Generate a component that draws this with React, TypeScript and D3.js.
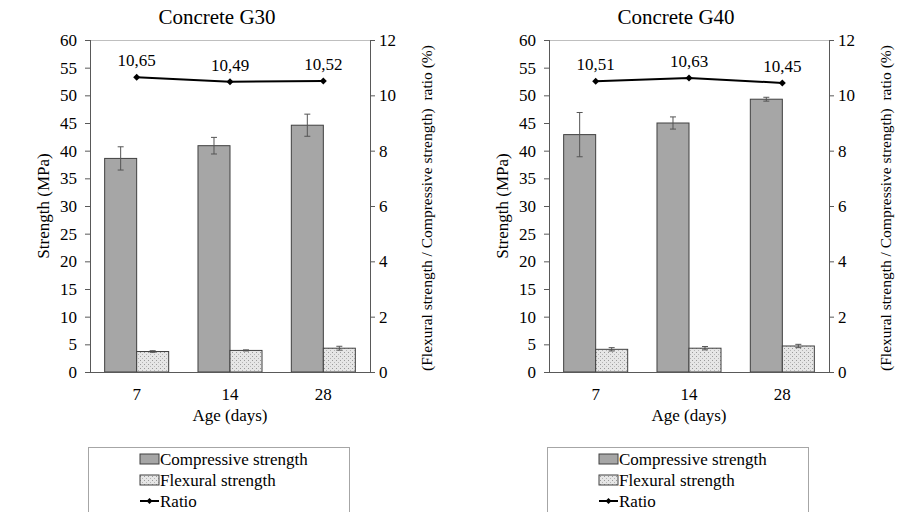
import React from "react";
import * as d3 from "d3";

const categories = ["7", "14", "28"];
const g30Compressive = [38.6, 40.9, 44.6];
const g30CompressiveErr = [2.1, 1.5, 2.0];
const g30Flexural = [3.7, 3.9, 4.3];
const g30FlexuralErr = [0.15, 0.1, 0.35];
const g30Ratio = [10.65, 10.49, 10.52];
const g30RatioLabels = ["10,65", "10,49", "10,52"];

const g40Compressive = [42.9, 45.0, 49.3];
const g40CompressiveErr = [4.0, 1.1, 0.35];
const g40Flexural = [4.1, 4.3, 4.7];
const g40FlexuralErr = [0.3, 0.3, 0.3];
const g40Ratio = [10.51, 10.63, 10.45];
const g40RatioLabels = ["10,51", "10,63", "10,45"];

const leftTicks = [0, 5, 10, 15, 20, 25, 30, 35, 40, 45, 50, 55, 60];
const rightTicks = [0, 2, 4, 6, 8, 10, 12];
const legendLabels = ["Compressive strength", "Flexural strength", "Ratio"];

const FONT = "'Liberation Serif', serif";
const AXIS = "#595959";
const COMP_FILL = "#a6a6a6";
const BAR_STROKE = "#404040";

type PanelProps = {
  ox: number;
  title: string;
  comp: number[];
  compErr: number[];
  flex: number[];
  flexErr: number[];
  ratio: number[];
  ratioLabels: string[];
};

function Diamond({ x, y, r = 3.5 }: { x: number; y: number; r?: number }) {
  return (
    <path
      d={`M${x},${y - r}L${x + r},${y}L${x},${y + r}L${x - r},${y}Z`}
      fill="#000"
    />
  );
}

function Panel({ ox, title, comp, compErr, flex, flexErr, ratio, ratioLabels }: PanelProps) {
  const left = ox;
  const right = ox + 280;
  const top = 40;
  const bottom = 372;
  const x = d3.scaleBand<string>().domain(categories).range([left, right]).paddingInner(0.314).paddingOuter(0.157);
  const sub = d3.scaleBand<string>().domain(["c", "f"]).range([0, x.bandwidth()]).padding(0);
  const y = d3.scaleLinear().domain([0, 60]).range([bottom, top]);
  const y2 = d3.scaleLinear().domain([0, 12]).range([bottom, top]);
  const line = d3
    .line<number>()
    .x((_, i) => (x(categories[i]) as number) + x.bandwidth() / 2)
    .y((d) => y2(d));
  const cx = (i: number) => (x(categories[i]) as number) + x.bandwidth() / 2;

  const errBar = (xc: number, v: number, e: number, key: string) => (
    <g key={key} stroke="#555" strokeWidth={1}>
      <line x1={xc} x2={xc} y1={y(v - e)} y2={y(v + e)} />
      <line x1={xc - 3} x2={xc + 3} y1={y(v - e)} y2={y(v - e)} />
      <line x1={xc - 3} x2={xc + 3} y1={y(v + e)} y2={y(v + e)} />
    </g>
  );

  return (
    <g style={{ fontFamily: FONT }}>
      <text x={ox + 127} y={24} fontSize={21} textAnchor="middle" fill="#000">
        {title}
      </text>
      <line x1={left} x2={right} y1={top + 0.5} y2={top + 0.5} stroke="#bfbfbf" strokeWidth={1} />
      {categories.map((c, i) => {
        const bx = x(c) as number;
        return (
          <g key={c}>
            <rect
              x={bx + (sub("c") as number)}
              y={y(comp[i])}
              width={sub.bandwidth()}
              height={y(0) - y(comp[i])}
              fill={COMP_FILL}
              stroke={BAR_STROKE}
              strokeWidth={1}
            />
            <rect
              x={bx + (sub("f") as number)}
              y={y(flex[i])}
              width={sub.bandwidth()}
              height={y(0) - y(flex[i])}
              fill="url(#dots)"
              stroke={BAR_STROKE}
              strokeWidth={1}
            />
            {errBar(bx + (sub("c") as number) + sub.bandwidth() / 2, comp[i], compErr[i], "ec")}
            {errBar(bx + (sub("f") as number) + sub.bandwidth() / 2, flex[i], flexErr[i], "ef")}
          </g>
        );
      })}
      <path d={line(ratio) || ""} fill="none" stroke="#000" strokeWidth={2} />
      {ratio.map((r, i) => (
        <g key={i}>
          <Diamond x={cx(i)} y={y2(r)} />
          <text x={cx(i)} y={y2(r) - 11} fontSize={17} textAnchor="middle" fill="#000">
            {ratioLabels[i]}
          </text>
        </g>
      ))}
      <line x1={left + 0.5} x2={left + 0.5} y1={top} y2={bottom} stroke={AXIS} strokeWidth={1} />
      {leftTicks.map((t) => (
        <g key={t}>
          <line x1={left - 5} x2={left} y1={y(t) + 0.5} y2={y(t) + 0.5} stroke={AXIS} />
          <text x={left - 13} y={y(t) + 6} fontSize={17} textAnchor="end" fill="#000">
            {t}
          </text>
        </g>
      ))}
      <line x1={right + 0.5} x2={right + 0.5} y1={top} y2={bottom} stroke={AXIS} strokeWidth={1} />
      {rightTicks.map((t) => (
        <g key={t}>
          <line x1={right} x2={right + 5} y1={y2(t) + 0.5} y2={y2(t) + 0.5} stroke={AXIS} />
          <text x={right + 9} y={y2(t) + 6} fontSize={17} textAnchor="start" fill="#000">
            {t}
          </text>
        </g>
      ))}
      <line x1={left} x2={right + 1} y1={bottom + 0.5} y2={bottom + 0.5} stroke={AXIS} strokeWidth={1} />
      {categories.map((c, i) => (
        <text key={c} x={cx(i)} y={400} fontSize={17} textAnchor="middle" fill="#000">
          {c}
        </text>
      ))}
      <text x={(left + right) / 2} y={421} fontSize={17} textAnchor="middle" fill="#000">
        Age (days)
      </text>
      <text
        transform={`translate(${left - 41},${(top + bottom) / 2}) rotate(-90)`}
        fontSize={17}
        textAnchor="middle"
        fill="#000"
      >
        Strength (MPa)
      </text>
      <text
        transform={`translate(${right + 62},${(top + bottom) / 2 + 2}) rotate(-90)`}
        fontSize={15.5}
        textAnchor="middle"
        fill="#000"
        style={{ whiteSpace: "pre" }}
      >
        {"(Flexural strength / Compressive strength)  ratio (%)"}
      </text>
      <Legend bx={ox - 2} />
    </g>
  );
}

function Legend({ bx }: { bx: number }) {
  const by = 447;
  const sx = bx + 52;
  const rows = [459, 480, 501];
  return (
    <g>
      <rect x={bx + 0.5} y={by + 0.5} width={261} height={66} fill="#fff" stroke="#a6a6a6" strokeWidth={1} />
      <rect x={sx} y={rows[0] - 5} width={19} height={10} fill={COMP_FILL} stroke={BAR_STROKE} />
      <rect x={sx} y={rows[1] - 5} width={19} height={10} fill="url(#dots)" stroke={BAR_STROKE} />
      <line x1={sx} x2={sx + 19} y1={rows[2]} y2={rows[2]} stroke="#000" strokeWidth={2} />
      <Diamond x={sx + 9.5} y={rows[2]} r={3} />
      {legendLabels.map((l, i) => (
        <text key={l} x={sx + 20} y={rows[i] + 6} fontSize={17} fill="#000">
          {l}
        </text>
      ))}
    </g>
  );
}

export default function App() {
  return (
    <svg
      width={898}
      height={512}
      style={{ position: "absolute", left: 0, top: 0, background: "#fff" }}
    >
      <defs>
        <pattern id="dots" width={4} height={4} patternUnits="userSpaceOnUse">
          <rect width={4} height={4} fill="#e6e6e6" />
          <rect x={0} y={0} width={1} height={1} fill="#9a9a9a" />
          <rect x={2} y={2} width={1} height={1} fill="#b5b5b5" />
        </pattern>
      </defs>
      <rect width={898} height={512} fill="#fff" />
      <Panel
        ox={90}
        title="Concrete G30"
        comp={g30Compressive}
        compErr={g30CompressiveErr}
        flex={g30Flexural}
        flexErr={g30FlexuralErr}
        ratio={g30Ratio}
        ratioLabels={g30RatioLabels}
      />
      <Panel
        ox={549}
        title="Concrete G40"
        comp={g40Compressive}
        compErr={g40CompressiveErr}
        flex={g40Flexural}
        flexErr={g40FlexuralErr}
        ratio={g40Ratio}
        ratioLabels={g40RatioLabels}
      />
    </svg>
  );
}
